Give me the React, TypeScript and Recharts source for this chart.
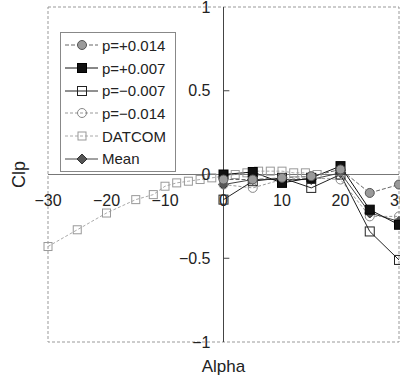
import {
  LineChart,
  Line,
  XAxis,
  YAxis,
  ReferenceLine,
  ReferenceDot,
  ReferenceArea,
  Legend,
} from "recharts";

// wind tunnel runs, sampled every 5 deg
const alphaTest = [0, 5, 10, 15, 20, 25, 30];
const clpPlus014 = [-0.03, -0.03, -0.02, -0.01, 0.03, -0.11, -0.06];
const clpPlus007 = [0.0, 0.015, -0.05, -0.02, 0.05, -0.21, -0.3];
const clpMinus007 = [-0.15, -0.04, -0.02, -0.08, 0.0, -0.34, -0.51];
const clpMinus014 = [-0.06, -0.08, -0.03, -0.02, -0.03, -0.25, -0.25];
const clpMean = [-0.06, -0.03, -0.03, -0.03, 0.01, -0.23, -0.28];

// DATCOM estimate
const alphaDatcom = [-30, -25, -20, -15, -12, -10, -8, -6, -4, -2, 0, 2, 4, 6, 8, 10, 12, 14, 16];
const clpDatcom = [
  -0.43, -0.33, -0.23, -0.15, -0.12, -0.07, -0.05, -0.04, -0.03, -0.02, -0.01, 0.0, 0.01, 0.02,
  0.02, 0.02, 0.01, 0.01, 0.0,
];

const xTicks = [-30, -20, -10, 0, 10, 20, 30];
const yTicks = [-1, -0.5, 0, 0.5, 1];
const yMinorTicks = [-0.5, 0.5];

const font = "'Liberation Sans', Arial, sans-serif";

type MarkerKind = "circleFill" | "squareFill" | "squareOpen" | "circleOpen" | "squareLight" | "diamond";

interface Series {
  name: string;
  xs: number[];
  ys: number[];
  stroke: string;
  dash?: string;
  marker: MarkerKind;
}

const series: Series[] = [
  { name: "p=+0.014", xs: alphaTest, ys: clpPlus014, stroke: "#666", dash: "4 2", marker: "circleFill" },
  { name: "p=+0.007", xs: alphaTest, ys: clpPlus007, stroke: "#111", marker: "squareFill" },
  { name: "p=\u22120.007", xs: alphaTest, ys: clpMinus007, stroke: "#222", marker: "squareOpen" },
  { name: "p=\u22120.014", xs: alphaTest, ys: clpMinus014, stroke: "#999", dash: "3 2", marker: "circleOpen" },
  { name: "DATCOM", xs: alphaDatcom, ys: clpDatcom, stroke: "#aaa", dash: "3 2", marker: "squareLight" },
  { name: "Mean", xs: alphaTest, ys: clpMean, stroke: "#444", marker: "diamond" },
];

const fmt = (t: number) => (t < 0 ? `\u2212${Math.abs(t)}` : `${t}`);

function Marker({ kind, cx, cy }: { kind: MarkerKind; cx: number; cy: number }) {
  switch (kind) {
    case "circleFill":
      return <circle cx={cx} cy={cy} r={4.5} fill="#9a9a9a" stroke="#555" />;
    case "squareFill":
      return <rect x={cx - 4.5} y={cy - 4.5} width={9} height={9} fill="#111" stroke="#000" />;
    case "squareOpen":
      return <rect x={cx - 4.5} y={cy - 4.5} width={9} height={9} fill="none" stroke="#222" />;
    case "circleOpen":
      return <circle cx={cx} cy={cy} r={4.5} fill="none" stroke="#888" />;
    case "squareLight":
      return <rect x={cx - 4} y={cy - 4} width={8} height={8} fill="none" stroke="#999" />;
    case "diamond":
      return (
        <polygon
          points={`${cx},${cy - 5} ${cx + 5},${cy} ${cx},${cy + 5} ${cx - 5},${cy}`}
          fill="#555"
          stroke="#333"
        />
      );
  }
}

const renderLegend = () => (
  <div
    style={{
      border: "1px solid #888",
      background: "#fff",
      width: 116,
      boxSizing: "border-box",
      padding: "1px 0",
    }}
  >
    {series.map((s) => (
      <div key={s.name} style={{ display: "flex", alignItems: "center", height: 22.7 }}>
        <svg width={41} height={20} style={{ display: "block" }}>
          <line x1={4} x2={37} y1={10} y2={10} stroke={s.stroke} strokeDasharray={s.dash} />
          <Marker kind={s.marker} cx={21} cy={10} />
        </svg>
        <span style={{ fontFamily: font, fontSize: 15, color: "#222", lineHeight: "15px" }}>{s.name}</span>
      </div>
    ))}
  </div>
);

export default function App() {
  return (
    <div style={{ position: "absolute", left: 0, top: 0, width: 400, height: 381, background: "#fff" }}>
      <LineChart width={400} height={381} margin={{ top: 7, right: 1, left: 0, bottom: 0 }}>
        <XAxis
          type="number"
          dataKey="x"
          domain={[-30, 30]}
          axisLine={false}
          tick={false}
          tickLine={false}
          height={39}
          label={{ value: "Alpha", position: "insideBottom", offset: 9, fill: "#222", fontSize: 17, fontFamily: font }}
        />
        <YAxis
          type="number"
          domain={[-1, 1]}
          axisLine={false}
          tick={false}
          tickLine={false}
          width={48}
          label={{ value: "Clp", angle: -90, position: "center", dx: -5, fill: "#222", fontSize: 18, fontFamily: font }}
        />
        <ReferenceArea x1={-30} x2={30} y1={-1} y2={1} fill="none" stroke="#999" strokeDasharray="3 2" />
        <ReferenceLine y={0} stroke="#777" />
        <ReferenceLine x={0} stroke="#444" />
        {yMinorTicks.map((t) => (
          <ReferenceLine
            key={`m${t}`}
            segment={[
              { x: 0, y: t },
              { x: 1, y: t },
            ]}
            stroke="#444"
          />
        ))}
        {xTicks.map((t) => (
          <ReferenceDot
            key={`x${t}`}
            x={t}
            y={0}
            r={1}
            fill="none"
            stroke="none"
            label={{ value: fmt(t), position: "bottom", offset: 19, fill: "#222", fontSize: 16, fontFamily: font }}
          />
        ))}
        {yTicks.map((t) => (
          <ReferenceDot
            key={`y${t}`}
            x={0}
            y={t}
            r={1}
            fill="none"
            stroke="none"
            label={{ value: fmt(t), position: "left", offset: 12, fill: "#222", fontSize: 16, fontFamily: font }}
          />
        ))}
        {[...series].reverse().map((s) => (
          <Line
            key={s.name}
            name={s.name}
            data={s.xs.map((x, i) => ({ x, y: s.ys[i] }))}
            dataKey="y"
            stroke={s.stroke}
            strokeWidth={1}
            strokeDasharray={s.dash}
            isAnimationActive={false}
            dot={(p: any) => <Marker key={`${s.name}-${p.index}`} kind={s.marker} cx={p.cx} cy={p.cy} />}
            activeDot={false}
          />
        ))}
        <Legend
          layout="vertical"
          align="center"
          verticalAlign="middle"
          content={renderLegend}
          wrapperStyle={{ left: 60, top: 32, width: 116 }}
        />
      </LineChart>
    </div>
  );
}
